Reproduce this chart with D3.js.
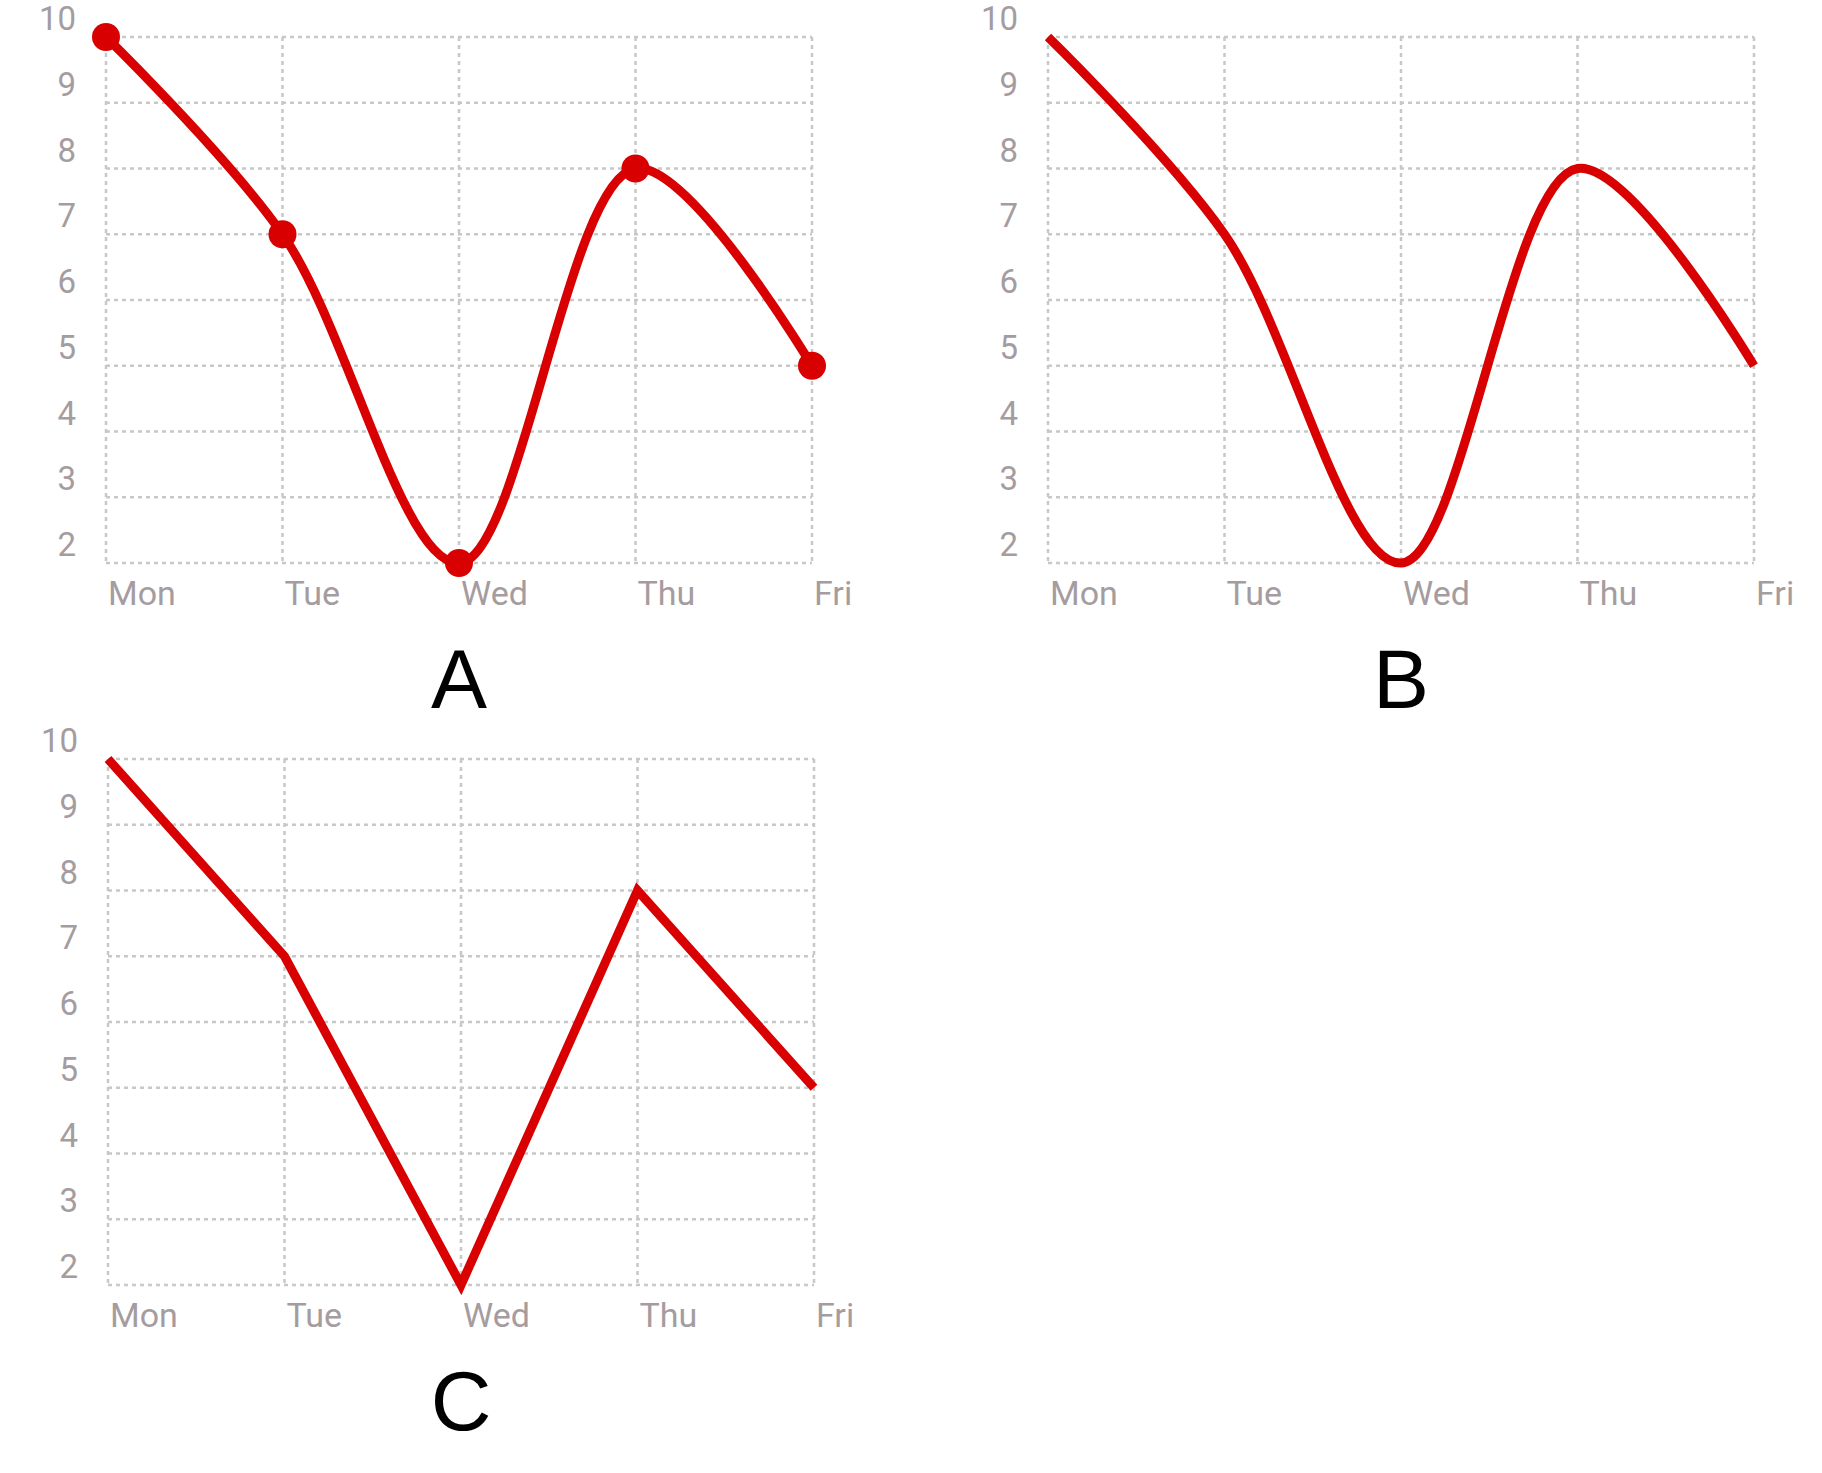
<!DOCTYPE html>
<html><head><meta charset="utf-8">
<script src="https://cdn.jsdelivr.net/npm/d3@7"></script>
<style>body{margin:0;background:#fff}</style>
</head><body>
<svg id="chart" width="1822" height="1473"></svg>
<script>
const days = ["Mon", "Tue", "Wed", "Thu", "Fri"];
const values = [10, 7, 2, 8, 5];
const yTicks = [2, 3, 4, 5, 6, 7, 8, 9, 10];

const svg = d3.select("#chart");
const w = 706, h = 526;

// panel: left/top of plot, letter, curve, dots
const panels = [
  {x: 106, y: 37, name: "A", curve: d3.curveCatmullRom.alpha(0.5), dots: true},
  {x: 1048, y: 37, name: "B", curve: d3.curveCatmullRom.alpha(0.5), dots: false},
  {x: 108, y: 759, name: "C", curve: d3.curveLinear, dots: false}
];

const x = d3.scalePoint().domain(days).range([0, w]);
const y = d3.scaleLinear().domain([2, 10]).range([h, 0]);

panels.forEach(p => {
  const g = svg.append("g").attr("transform", `translate(${p.x},${p.y})`);

  g.selectAll(".hg").data(yTicks).enter().append("line")
    .attr("x1", 0).attr("x2", w)
    .attr("y1", d => y(d)).attr("y2", d => y(d))
    .attr("stroke", "#c8c8c8").attr("stroke-width", 2.5).attr("stroke-dasharray", "4,4");
  g.selectAll(".vg").data(days).enter().append("line")
    .attr("x1", d => x(d)).attr("x2", d => x(d))
    .attr("y1", 0).attr("y2", h)
    .attr("stroke", "#c8c8c8").attr("stroke-width", 2.5).attr("stroke-dasharray", "4,4");

  g.selectAll(".yl").data(yTicks).enter().append("text")
    .attr("x", -30).attr("y", d => y(d) - 7)
    .attr("text-anchor", "end")
    .attr("font-family", "Roboto").attr("font-size", 33).attr("fill", "#a59c9f")
    .text(d => d);
  g.selectAll(".xl").data(days).enter().append("text")
    .attr("x", d => x(d) + 2).attr("y", h + 42)
    .attr("font-family", "Roboto").attr("font-size", 34).attr("fill", "#a59c9f")
    .text(d => d);

  const line = d3.line().x((d, i) => x(days[i])).y(d => y(d)).curve(p.curve);
  g.append("path").datum(values).attr("d", line)
    .attr("fill", "none").attr("stroke", "#d80000").attr("stroke-width", 9);

  if (p.dots) {
    g.selectAll(".dot").data(values).enter().append("circle")
      .attr("cx", (d, i) => x(days[i])).attr("cy", d => y(d)).attr("r", 14)
      .attr("fill", "#d80000");
  }

  svg.append("text")
    .attr("x", p.x + w / 2).attr("y", p.y + h + 145)
    .attr("text-anchor", "middle")
    .attr("font-family", "Liberation Sans, Arial").attr("font-size", 84).attr("fill", "#000")
    .text(p.name);
});
</script>
</body></html>
